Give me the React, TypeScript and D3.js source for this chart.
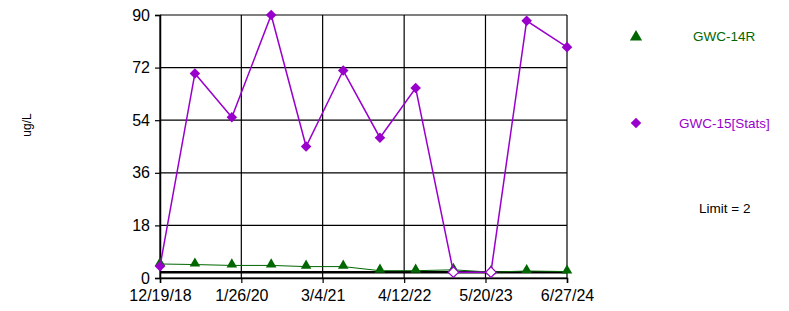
// Line chart of GWC-14R and GWC-15 concentrations (ug/L) over time, with limit line

import React, { useEffect, useRef } from "react"
import * as d3 from "d3"

const sampleDates = [
  "12/19/18", "6/10/19", "12/10/19", "6/22/20", "12/12/20", "6/14/21",
  "12/13/21", "6/8/22", "12/12/22", "6/16/23", "12/10/23", "6/27/24",
]
const gwc14R = [4.8, 4.6, 4.3, 4.3, 3.9, 3.9, 2.5, 2.5, 2.8, 2.0, 2.4, 2.2]
const gwc15 = [4, 70, 55, 90, 45, 71, 48, 65, 2, 2, 88, 79]
// non-detects drawn as hollow diamonds
const gwc15NonDetect = [false, false, false, false, false, false, false, false, true, true, false, false]
const xTickLabels = ["12/19/18", "1/26/20", "3/4/21", "4/12/22", "5/20/23", "6/27/24"]
const yTicks = [0, 18, 36, 54, 72, 90]
const limitValue = 2

const GREEN = "#006600"
const PURPLE = "#9900cc"
const FONT = "'Liberation Sans', Arial, sans-serif"

export default function App() {
  const ref = useRef<SVGSVGElement>(null)

  useEffect(() => {
    const parse = d3.timeParse("%m/%d/%y")
    const dates = sampleDates.map(d => parse(d) as Date)
    const tickDates = xTickLabels.map(d => parse(d) as Date)

    const svg = d3.select(ref.current)
    svg.selectAll("*").remove()

    const left = 160, right = 567, top = 15, bottom = 278

    const x = d3.scaleTime()
      .domain([tickDates[0], tickDates[tickDates.length - 1]])
      .range([left, right])
    const y = d3.scaleLinear().domain([0, 90]).range([bottom, top])

    // grid
    svg.append("g").selectAll("line.h")
      .data(yTicks)
      .enter().append("line")
      .attr("x1", left).attr("x2", right)
      .attr("y1", d => y(d)).attr("y2", d => y(d))
      .attr("stroke", "#000").attr("stroke-width", 1.2)
    svg.append("g").selectAll("line.v")
      .data(tickDates)
      .enter().append("line")
      .attr("x1", d => x(d)).attr("x2", d => x(d))
      .attr("y1", top).attr("y2", bottom)
      .attr("stroke", "#000").attr("stroke-width", 1.2)

    // axes
    const yAxis = svg.append("g")
      .attr("transform", `translate(${left},0)`)
      .call(d3.axisLeft(y).tickValues(yTicks).tickSize(5).tickPadding(5).tickFormat(d3.format("d")))
    const xAxis = svg.append("g")
      .attr("transform", `translate(0,${bottom})`)
      .call(d3.axisBottom(x).tickValues(tickDates).tickSize(5).tickPadding(7)
        .tickFormat((_, i) => xTickLabels[i]))
    for (const a of [yAxis, xAxis]) {
      a.select(".domain").attr("stroke", "#000").attr("stroke-width", 1.5)
      a.selectAll(".tick line").attr("stroke", "#000").attr("stroke-width", 1.2)
      a.selectAll("text").attr("fill", "#000").attr("font-family", FONT).attr("font-size", 16)
    }

    // limit line
    svg.append("line")
      .attr("x1", left).attr("x2", right)
      .attr("y1", y(limitValue)).attr("y2", y(limitValue))
      .attr("stroke", "#000").attr("stroke-width", 2.5)

    const line = d3.line<number>().x((_, i) => x(dates[i])).y(d => y(d))

    // GWC-14R
    svg.append("path").datum(gwc14R)
      .attr("d", line).attr("fill", "none").attr("stroke", GREEN).attr("stroke-width", 1)
    const tri = d3.symbol().type(d3.symbolTriangle).size(48)
    svg.append("g").selectAll("path")
      .data(gwc14R)
      .enter().append("path")
      .attr("d", tri)
      .attr("transform", (d, i) => `translate(${x(dates[i])},${y(d) - 1})`)
      .attr("fill", GREEN)

    // GWC-15[Stats]
    svg.append("path").datum(gwc15)
      .attr("d", line).attr("fill", "none").attr("stroke", PURPLE).attr("stroke-width", 1.5)
    // square turned 45 degrees
    const diamond = d3.symbol().type(d3.symbolSquare).size(56)
    svg.append("g").selectAll("path")
      .data(gwc15)
      .enter().append("path")
      .attr("d", diamond)
      .attr("transform", (d, i) => `translate(${x(dates[i])},${y(d)}) rotate(45)`)
      .attr("fill", (_, i) => gwc15NonDetect[i] ? "#fff" : PURPLE)
      .attr("stroke", PURPLE)
      .attr("stroke-width", (_, i) => gwc15NonDetect[i] ? 1.2 : 0)

    // y label
    svg.append("text")
      .attr("transform", "translate(31,125) rotate(-90)")
      .attr("text-anchor", "middle")
      .attr("font-family", FONT).attr("font-size", 12)
      .text("ug/L")

    // legend
    svg.append("path").attr("d", d3.symbol().type(d3.symbolTriangle).size(64))
      .attr("transform", "translate(636,37)").attr("fill", GREEN)
    svg.append("text").attr("x", 693).attr("y", 41)
      .attr("font-family", FONT).attr("font-size", 13.5).attr("fill", GREEN)
      .text("GWC-14R")
    svg.append("path").attr("d", d3.symbol().type(d3.symbolSquare).size(56))
      .attr("transform", "translate(636,123) rotate(45)").attr("fill", PURPLE)
    svg.append("text").attr("x", 679).attr("y", 127.5)
      .attr("font-family", FONT).attr("font-size", 13.5).attr("fill", PURPLE)
      .text("GWC-15[Stats]")
    svg.append("text").attr("x", 699).attr("y", 213)
      .attr("font-family", FONT).attr("font-size", 13.5).attr("fill", "#000")
      .text("Limit = 2")
  }, [])

  return (
    <svg ref={ref} width={789} height={311}
      style={{ position: "absolute", left: 0, top: 0, background: "#fff" }} />
  )
}
